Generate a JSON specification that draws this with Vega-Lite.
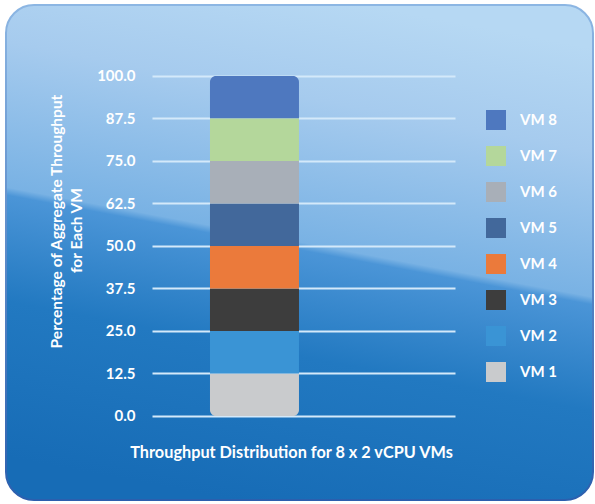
{
  "$schema": "https://vega.github.io/schema/vega-lite/v6.json",
  "width": 587,
  "height": 495,
  "autosize": {"type": "none"},
  "padding": {"left": 6, "top": 5, "right": 2, "bottom": 4},
  "background": "white",
  "config": {
    "font": "Lato",
    "view": {
      "fill": {
        "gradient": "linear",
        "x1": 0.611, "y1": 0, "x2": 0.389, "y2": 1,
        "stops": [
          {"offset": 0, "color": "#b6d8f3"},
          {"offset": 0.2, "color": "#a6cbee"},
          {"offset": 0.48, "color": "#79b2e4"},
          {"offset": 0.495, "color": "#4b95d7"},
          {"offset": 0.7, "color": "#2279c1"},
          {"offset": 1, "color": "#176cb6"}
        ]
      },
      "cornerRadius": 28,
      "stroke": {
        "gradient": "linear",
        "x1": 0, "y1": 0, "x2": 0, "y2": 1,
        "stops": [
          {"offset": 0, "color": "#8cb6e3"},
          {"offset": 1, "color": "#2b5fae"}
        ]
      },
      "strokeWidth": 2
    }
  },
  "data": {
    "values": [
      {"run": "8 x 2 vCPU VMs", "vm": "VM 1", "order": 1, "pct": 12.5},
      {"run": "8 x 2 vCPU VMs", "vm": "VM 2", "order": 2, "pct": 12.5},
      {"run": "8 x 2 vCPU VMs", "vm": "VM 3", "order": 3, "pct": 12.5},
      {"run": "8 x 2 vCPU VMs", "vm": "VM 4", "order": 4, "pct": 12.5},
      {"run": "8 x 2 vCPU VMs", "vm": "VM 5", "order": 5, "pct": 12.5},
      {"run": "8 x 2 vCPU VMs", "vm": "VM 6", "order": 6, "pct": 12.5},
      {"run": "8 x 2 vCPU VMs", "vm": "VM 7", "order": 7, "pct": 12.5},
      {"run": "8 x 2 vCPU VMs", "vm": "VM 8", "order": 8, "pct": 12.5}
    ]
  },
  "transform": [
    {"stack": "pct", "groupby": ["run"], "sort": [{"field": "order", "order": "ascending"}], "as": ["y0", "y1"]}
  ],
  "encoding": {
    "x": {
      "field": "run",
      "type": "nominal",
      "scale": {"paddingInner": 0.6426, "paddingOuter": 1, "align": 0.4096, "round": false},
      "axis": {
        "orient": "bottom",
        "offset": 0,
        "labels": false,
        "ticks": false,
        "domain": false,
        "grid": false,
        "title": "Throughput Distribution for 8 x 2 vCPU VMs",
        "titleColor": "white",
        "titleFontSize": 16.3,
        "titleFontWeight": "bold",
        "titleX": 285,
        "titleY": -48,
        "titleAlign": "center",
        "titleBaseline": "middle",
        "zindex": 0
      }
    },
    "y2": {"field": "y0"},
    "color": {
      "field": "vm",
      "type": "nominal",
      "scale": {
        "domain": ["VM 8", "VM 7", "VM 6", "VM 5", "VM 4", "VM 3", "VM 2", "VM 1"],
        "range": ["#4e78bf", "#b4d79b", "#a8afb8", "#42689b", "#eb7a3b", "#3d3d3d", "#3a94d5", "#c9cbcd"]
      },
      "legend": {
        "orient": "none",
        "legendX": 480,
        "legendY": 105,
        "title": null,
        "symbolType": "square",
        "symbolSize": 400,
        "symbolStrokeWidth": 0,
        "symbolOpacity": 1,
        "labelColor": "white",
        "labelFontSize": 15,
        "labelFontWeight": "bold",
        "labelOffset": 14,
        "rowPadding": 16,
        "padding": 0
      }
    }
  },
  "resolve": {"axis": {"y": "independent"}},
  "layer": [
    {
      "transform": [{"filter": "datum.order == 1"}],
      "mark": {"type": "bar", "cornerRadiusBottomLeft": 6, "cornerRadiusBottomRight": 6, "opacity": 1},
      "encoding": {
        "y": {
          "field": "y1",
          "type": "quantitative",
          "scale": {"domain": [-24.71, 120.88], "nice": false, "zero": false},
          "axis": {
            "orient": "left",
            "values": [0, 12.5, 25, 37.5, 50, 62.5, 75, 87.5, 100],
            "format": ".1f",
            "offset": -449,
            "tickSize": 303,
            "tickColor": "#d4e9fa",
            "tickWidth": 2,
            "domain": false,
            "grid": false,
            "labelPadding": 17,
            "labelColor": "white",
            "labelFontSize": 15,
            "labelFontWeight": "bold",
            "title": "Percentage of Aggregate Throughput",
            "titleColor": "white",
            "titleFontSize": 15.5,
            "titleFontWeight": "bold",
            "titleAngle": -90,
            "titleX": -399,
            "titleY": 216,
            "titleAlign": "center",
            "titleBaseline": "middle",
            "zindex": 0
          }
        }
      }
    },
    {
      "transform": [{"filter": "datum.order == 8"}],
      "mark": {"type": "bar", "cornerRadiusTopLeft": 6, "cornerRadiusTopRight": 6, "opacity": 1},
      "encoding": {
        "y": {
          "field": "y1",
          "type": "quantitative",
          "axis": {
            "orient": "left",
            "offset": -449,
            "labels": false,
            "ticks": false,
            "domain": false,
            "grid": false,
            "title": "for Each VM",
            "titleColor": "white",
            "titleFontSize": 15.5,
            "titleFontWeight": "bold",
            "titleAngle": -90,
            "titleX": -379,
            "titleY": 225,
            "titleAlign": "center",
            "titleBaseline": "middle",
            "zindex": 0
          }
        }
      }
    },
    {
      "transform": [{"filter": "datum.order > 1 && datum.order < 8"}],
      "mark": {"type": "bar", "opacity": 1},
      "encoding": {
        "y": {"field": "y1", "type": "quantitative", "axis": null}
      }
    }
  ]
}
